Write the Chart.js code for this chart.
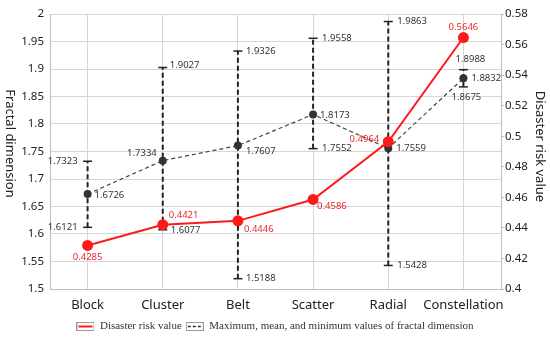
<!DOCTYPE html>
<html>
<head>
<meta charset="utf-8">
<script src="https://cdn.jsdelivr.net/npm/chart.js@4.4.1/dist/chart.umd.min.js"></script>
<style>
    html, body { margin: 0; padding: 0; background: #fff; }
    #wrap { width: 550px; height: 340px; }
</style>
</head>
<body>
<div id="wrap"><canvas id="chart" width="550" height="340"></canvas></div>
<script>
// Fractal dimension and disaster risk by settlement pattern

// Data
const categories = ['Block', 'Cluster', 'Belt', 'Scatter', 'Radial', 'Constellation'];

const riskValues = [0.4285, 0.4421, 0.4446, 0.4586, 0.4964, 0.5646];
const fractalMax = [1.7323, 1.9027, 1.9326, 1.9558, 1.9863, 1.8988];
const fractalMean = [1.6726, 1.7334, 1.7607, 1.8173, 1.7559, 1.8832];
const fractalMin = [1.6121, 1.6077, 1.5188, 1.7552, 1.5428, 1.8675];

const fractalTicks = [1.5, 1.55, 1.6, 1.65, 1.7, 1.75, 1.8, 1.85, 1.9, 1.95, 2];
const riskTicks = [0.4, 0.42, 0.44, 0.46, 0.48, 0.5, 0.52, 0.54, 0.56, 0.58];

// Label placement [dx, dy, align] relative to each point
const maxLabelPos = [[-10, 0, 'right'], [7, -2, 'left'], [8, 0, 'left'], [9, 0, 'left'], [9, 0, 'left'], [7, -10, 'center']];
const meanLabelPos = [[7, 1, 'left'], [-6, -7, 'right'], [8, 6, 'left'], [7, 1, 'left'], [8, 0, 'left'], [8, 0, 'left']];
const minLabelPos = [[-10, 0, 'right'], [8, 1, 'left'], [8, 0, 'left'], [9, 0, 'left'], [9, 0, 'left'], [3, 10, 'center']];
const riskLabelPos = [[0, 12, 'center'], [6, -9, 'left'], [6, 8, 'left'], [4, 7, 'left'], [-9, -2, 'right'], [0, -10, 'center']];

const RED = '#ff1a1a';
const DARK = '#333333';
const GRID = '#d6d6d6';
const SANS = "'Noto Sans', sans-serif";

// min/max whiskers as one broken line (null breaks each bar)
const rangeData = [];
categories.forEach((c, i) => {
    rangeData.push({ x: c, y: fractalMin[i] }, { x: c, y: fractalMax[i] }, { x: c, y: null });
});

// Small legend icons: grey box with a line inside
function legendIcon(color, dash) {
    const c = document.createElement('canvas');
    c.width = 18;
    c.height = 9;
    const g = c.getContext('2d');
    g.strokeStyle = '#9a9a9a';
    g.lineWidth = 1;
    g.strokeRect(0.5, 0.5, 17, 8);
    g.strokeStyle = color;
    g.lineWidth = dash ? 1.5 : 2;
    g.setLineDash(dash || []);
    g.beginPath();
    g.moveTo(2, 4.5);
    g.lineTo(16, 4.5);
    g.stroke();
    return c;
}
const legendIcons = [legendIcon(RED), legendIcon('#333', [3, 2])];

// Value labels + axis titles
const labelPlugin = {
    id: 'valueLabels',
    afterDatasetsDraw(chart) {
        const { ctx, scales } = chart;
        const xs = scales.x, ys = scales.y, yr = scales.y1;
        ctx.save();
        ctx.font = `9.5px ${SANS}`;
        ctx.textBaseline = 'middle';

        const put = (text, x, y, pos, color) => {
            ctx.fillStyle = color;
            ctx.textAlign = pos[2];
            ctx.fillText(text, x + pos[0], y + pos[1]);
        };

        categories.forEach((c, i) => {
            const x = xs.getPixelForValue(i);
            put(fractalMax[i].toFixed(4), x, ys.getPixelForValue(fractalMax[i]), maxLabelPos[i], DARK);
            put(fractalMean[i].toFixed(4), x, ys.getPixelForValue(fractalMean[i]), meanLabelPos[i], DARK);
            put(fractalMin[i].toFixed(4), x, ys.getPixelForValue(fractalMin[i]), minLabelPos[i], DARK);
            put(riskValues[i].toFixed(4), x, yr.getPixelForValue(riskValues[i]), riskLabelPos[i], '#e8262b');
        });

        // axis titles, both read top to bottom
        ctx.font = `13px ${SANS}`;
        ctx.fillStyle = '#222';
        ctx.textAlign = 'center';
        const mid = (chart.chartArea.top + chart.chartArea.bottom) / 2;
        ctx.save();
        ctx.translate(10, mid - 8);
        ctx.rotate(Math.PI / 2);
        ctx.fillText('Fractal dimension', 0, 0);
        ctx.restore();
        ctx.save();
        ctx.translate(540, mid - 5);
        ctx.rotate(Math.PI / 2);
        ctx.fillText('Disaster risk value', 0, 0);
        ctx.restore();
        ctx.restore();
    }
};

new Chart(document.getElementById('chart'), {
    type: 'line',
    data: {
        labels: categories,
        datasets: [
            {
                label: 'Disaster risk value',
                data: riskValues,
                yAxisID: 'y1',
                borderColor: RED,
                backgroundColor: RED,
                borderWidth: 2,
                pointRadius: 5.5,
                pointBackgroundColor: RED,
                pointBorderWidth: 0,
                tension: 0,
                order: 1
            },
            {
                label: 'Maximum, mean, and minimum values of fractal dimension',
                data: fractalMean,
                yAxisID: 'y',
                borderColor: '#444',
                borderDash: [4, 3],
                borderWidth: 1.2,
                pointRadius: 4,
                pointBackgroundColor: DARK,
                pointBorderWidth: 0,
                tension: 0,
                order: 2
            },
            {
                label: 'range',
                data: rangeData,
                yAxisID: 'y',
                borderColor: '#222',
                borderDash: [5, 3],
                borderWidth: 2,
                pointStyle: 'line',
                pointRadius: 4.5,
                pointBorderColor: '#222',
                pointBorderWidth: 1.5,
                spanGaps: false,
                order: 3
            }
        ]
    },
    options: {
        responsive: false,
        animation: false,
        layout: { padding: { top: 14, left: 0, right: 0, bottom: -2 } },
        plugins: {
            tooltip: { enabled: false },
            legend: {
                position: 'bottom',
                labels: {
                    usePointStyle: true,
                    pointStyleWidth: 18,
                    padding: 4,
                    color: '#333',
                    font: { family: "'Liberation Serif', serif", size: 11 },
                    filter: (item) => item.datasetIndex < 2,
                    generateLabels: (chart) => {
                        const items = Chart.defaults.plugins.legend.labels.generateLabels(chart);
                        items.forEach(it => { it.pointStyle = legendIcons[it.datasetIndex] || it.pointStyle; });
                        return items;
                    }
                }
            }
        },
        scales: {
            x: {
                offset: true,
                afterFit: (s) => { s.height = 28; },
                grid: { color: GRID, drawTicks: false, offset: false },
                border: { color: '#bdbdbd' },
                ticks: {
                    color: '#222',
                    padding: 8,
                    minRotation: 0,
                    maxRotation: 0,
                    autoSkip: false,
                    font: { family: SANS, size: 13 }
                }
            },
            y: {
                position: 'left',
                min: 1.5,
                max: 2,
                afterFit: (s) => { s.width = 50; },
                afterBuildTicks: (s) => { s.ticks = fractalTicks.map(v => ({ value: v })); },
                grid: { color: GRID, drawTicks: false },
                border: { color: '#bdbdbd' },
                ticks: {
                    color: '#222',
                    padding: 6,
                    font: { family: SANS, size: 11.5 },
                    callback: (v) => String(v)
                }
            },
            y1: {
                position: 'right',
                min: 0.4,
                max: 0.58,
                afterFit: (s) => { s.width = 49; },
                afterBuildTicks: (s) => { s.ticks = riskTicks.map(v => ({ value: v })); },
                grid: { color: '#bdbdbd', drawOnChartArea: false, drawTicks: true, tickLength: 3 },
                border: { color: '#bdbdbd' },
                ticks: {
                    color: '#222',
                    padding: 1,
                    font: { family: SANS, size: 11.5 },
                    callback: (v) => String(v)
                }
            }
        }
    },
    plugins: [labelPlugin]
});
</script>
</body>
</html>
